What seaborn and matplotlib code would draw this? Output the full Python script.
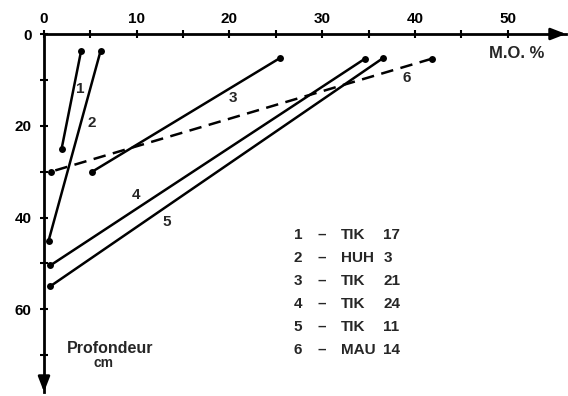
import pandas as pd
import matplotlib.pyplot as plt
import seaborn as sns

# ------------------------------
# Data (M.O. % vs depth in cm)
# ------------------------------
courbes = ["1", "2", "3", "4", "5", "6"]
sites = ["TIK", "HUH", "TIK", "TIK", "TIK", "MAU"]
numeros = ["17", "3", "21", "24", "11", "14"]
mo_haut = [4.0, 6.1, 25.4, 34.6, 36.6, 41.8]
prof_haut = [3.7, 3.7, 5.3, 5.4, 5.2, 5.4]
mo_bas = [1.9, 0.5, 5.2, 0.7, 0.65, 0.75]
prof_bas = [25.0, 45.0, 30.0, 50.4, 55.0, 30.0]

rows = []
for c, x0, y0, x1, y1 in zip(courbes, mo_haut, prof_haut, mo_bas, prof_bas):
    rows.append({"courbe": c, "mo": x0, "prof": y0})
    rows.append({"courbe": c, "mo": x1, "prof": y1})
df = pd.DataFrame(rows)

# ------------------------------
# Figure
# ------------------------------
sns.set_style("white")
plt.rcParams["font.family"] = ["Liberation Sans", "DejaVu Sans"]
plt.rcParams["font.weight"] = "bold"

W, H = 568, 396
fig = plt.figure(figsize=(W / 100, H / 100), dpi=100)
ax = fig.add_axes([44 / W, 1 - 392 / H, (566 - 44) / W, (392 - 34) / H])

dashes = {c: "" for c in courbes}
dashes["6"] = (5, 3)
sns.lineplot(data=df, x="mo", y="prof", hue="courbe", style="courbe",
             palette=["black"] * 6, dashes=dashes,
             markers={c: "o" for c in courbes}, markersize=5,
             markeredgewidth=0, linewidth=1.8, sort=False,
             estimator=None, legend=False, ax=ax)

ax.set_xlim(0, 56.3)
ax.set_ylim(78, 0)

# axes: only left and top, with arrows
for s in ["right", "bottom"]:
    ax.spines[s].set_visible(False)
for s in ["left", "top"]:
    ax.spines[s].set_linewidth(2)
    ax.spines[s].set_color("black")
head = dict(arrowstyle="-|>,head_length=0.9,head_width=0.35", color="black", lw=2,
            shrinkA=0, shrinkB=0)
ax.annotate("", xy=(1, 1), xytext=(0.97, 1), xycoords="axes fraction",
            arrowprops=head, annotation_clip=False)
ax.annotate("", xy=(0, 0), xytext=(0, 0.04), xycoords="axes fraction",
            arrowprops=head, annotation_clip=False)

ax.xaxis.set_ticks_position("top")
ax.xaxis.set_label_position("top")
ax.set_xticks([0, 10, 20, 30, 40, 50])
ax.set_xticks([5, 15, 25, 35, 45, 55], minor=True)
ax.set_yticks([0, 20, 40, 60])
ax.set_yticks([10, 30, 50, 70], minor=True)
ax.tick_params(which="both", direction="inout", length=6, width=1.5, color="black",
               labelsize=11, labelcolor="black")
ax.tick_params(axis="x", pad=3)
ax.tick_params(axis="y", pad=6)
ax.tick_params(axis="y", which="both", left=True)
for lab in ax.get_xticklabels() + ax.get_yticklabels():
    lab.set_fontweight("bold")
ax.set_xlabel("")
ax.set_ylabel("")

# axis titles
ax.text(51.0, 4.2, "M.O. %", fontsize=12, fontweight="bold", ha="center", va="center")
ax.text(7.1, 68.5, "Profondeur", fontsize=11.5, fontweight="bold", ha="center", va="center")
ax.text(6.4, 71.6, "cm", fontsize=10, fontweight="bold", ha="center", va="center")

# curve numbers
label_pos = {"1": (3.9, 11.9), "2": (5.1, 19.3), "3": (20.4, 14.0),
             "4": (9.9, 35.0), "5": (13.2, 40.9), "6": (39.1, 9.5)}
for c in courbes:
    x, y = label_pos[c]
    ax.text(x, y, c, fontsize=11, fontweight="bold", ha="center", va="center")

# key
for i, (c, s, n) in enumerate(zip(courbes, sites, numeros)):
    y = 43.8 + i * 5.0
    ax.text(27.4, y, c, fontsize=11, fontweight="bold", ha="center", va="center")
    ax.text(30.0, y, "\u2013", fontsize=11, fontweight="bold", ha="center", va="center")
    ax.text(32.0, y, s, fontsize=11, fontweight="bold", ha="left", va="center")
    ax.text(36.6, y, n, fontsize=11, fontweight="bold", ha="left", va="center")

fig.savefig("out.png", dpi=100)
